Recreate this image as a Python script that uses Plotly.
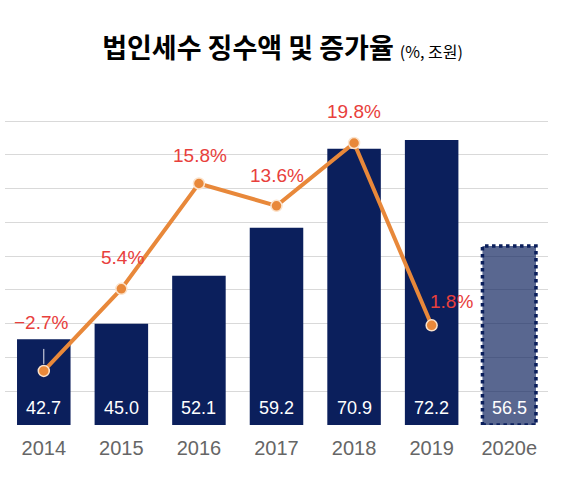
import plotly.graph_objects as go

# 법인세수 징수액 (조원) and 증가율 (%)
years = ['2014', '2015', '2016', '2017', '2018', '2019', '2020e']
tax_amount = [42.7, 45.0, 52.1, 59.2, 70.9, 72.2, 56.5]
growth_rate = [-2.7, 5.4, 15.8, 13.6, 19.8, 1.8]   # no rate for 2020e
growth_labels = ['\u22122.7%', '5.4%', '15.8%', '13.6%', '19.8%', '1.8%']

NAVY = '#0B1F5C'
ORANGE = '#E8883A'
RED = '#E8403C'
BAR_W = 0.69
Y_MIN, Y_MAX = 30, 75.15

xpos = list(range(len(years)))
gpos = xpos[:len(growth_rate)]
bar_colors = [NAVY] * (len(years) - 1) + ['rgba(11,31,92,0.68)']

fig = go.Figure()
fig.add_trace(go.Bar(
    x=xpos, y=tax_amount, width=BAR_W,
    marker=dict(color=bar_colors, line=dict(width=0)),
    showlegend=False,
))
fig.add_trace(go.Scatter(
    x=gpos, y=growth_rate, yaxis='y2', mode='lines+markers',
    line=dict(color=ORANGE, width=4),
    marker=dict(color=ORANGE, size=11, line=dict(color='#FBE3CC', width=1.5)),
    showlegend=False,
))

# dotted outline for the estimate bar
i_est = len(years) - 1
fig.add_shape(type='rect', xref='x', yref='y',
              x0=xpos[i_est] - BAR_W / 2, x1=xpos[i_est] + BAR_W / 2,
              y0=Y_MIN, y1=tax_amount[i_est],
              line=dict(color=NAVY, width=3.5, dash='dot'))

# value labels at the foot of each bar
for xp, v in zip(xpos, tax_amount):
    fig.add_annotation(x=xp, y=Y_MIN, xref='x', yref='y', text='%.1f' % v,
                       showarrow=False, yanchor='bottom', yshift=5,
                       font=dict(color='white', size=18, family='Liberation Sans'))

# label offsets (px) for the growth labels
offs = [(-2, 48), (1, 31), (1, 28), (0, 30), (0, 31), (20, 24)]
for (dx, dy), xp, g, lab in zip(offs, gpos, growth_rate, growth_labels):
    fig.add_annotation(x=xp, y=g, xref='x', yref='y2', text=lab,
                       showarrow=False, xshift=dx, yshift=dy,
                       font=dict(color=RED, size=19, family='Liberation Sans'))
# thin leader for the first point
fig.add_annotation(x=gpos[0], y=growth_rate[0], xref='x', yref='y2',
                   text=' ', showarrow=True, arrowhead=0, arrowwidth=1,
                   arrowcolor='#E8E8F0', ax=0, ay=-32, standoff=7)

fig.update_layout(
    width=565, height=483,
    margin=dict(l=5, r=17, t=120, b=58),
    paper_bgcolor='white', plot_bgcolor='white',
    title=dict(
        text='<b>법인세수 징수액 및 증가율</b> <span style="font-size:16px">(%, 조원)</span>',
        x=0.5, xanchor='center', y=0.9, yanchor='middle',
        font=dict(family='Noto Sans CJK KR', size=27, color='black'),
    ),
    xaxis=dict(range=[-0.5, len(years) - 0.5], tickvals=xpos, ticktext=years,
               tickfont=dict(family='Liberation Sans', size=20, color='#666666'),
               ticklabelstandoff=9,
               showline=False, ticks='', showgrid=False, zeroline=False),
    yaxis=dict(range=[Y_MIN, Y_MAX], dtick=5, showticklabels=False,
               gridcolor='#D9D9D9', gridwidth=1, zeroline=False),
    yaxis2=dict(range=[-8.04, 22.07], overlaying='y', showticklabels=False,
                showgrid=False, zeroline=False),
)

# drop the default page margin so the figure sits at the window's corner
fig.write_html('out.html', config={'displayModeBar': False},
               post_script="document.body.style.margin='0';")
